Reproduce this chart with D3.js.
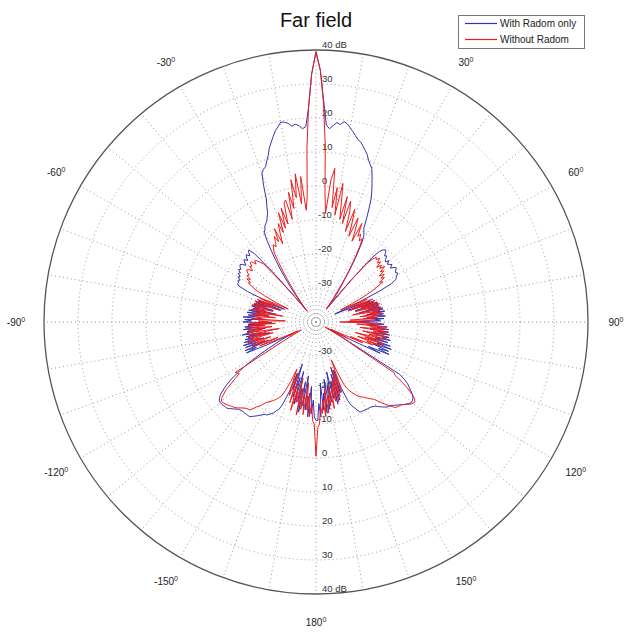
<!DOCTYPE html>
<html>
<head>
<meta charset="utf-8">
<script src="https://cdn.jsdelivr.net/npm/d3@7"></script>
<style>
  body { margin: 0; background: #fff; }
  text { font-family: Arial, "Liberation Sans", sans-serif; }
</style>
</head>
<body>
<svg id="chart" width="625" height="632"></svg>
<script>
// angle in degrees, 0 = boresight (top), clockwise positive
const angles = d3.range(-180, 181);

// gain in dB, -180 .. 180
const withRadom = [
  -11,
  -12, -17, -13, -21, -12, -18, -14, -24, -15,
  -22, -13, -20, -16, -25, -15, -23, -17, -27, -19,
  -24, -18, -14, -12, -11.5, -10.5, -10, -9.5, -9, -9,
  -8.5, -8, -7.5, -7, -6.5, -6, -6, -6, -6, -6,
  -6, -5.8, -5.5, -5, -4.5, -4, -3.5, -3.5, -3.3, -3.2,
  -3.2, -3.4, -4, -5, -6.5, -8, -10, -12.5, -15, -18,
  -21, -24, -27, -29, -32, -24, -17.6, -21, -17.5, -25,
  -18, -22, -17.5, -24, -18, -21, -18.5, -26, -19, -23,
  -18, -21, -19.5, -25, -18.5, -22, -19, -24, -20, -27,
  -18.5, -21, -19, -25, -18.5, -22, -20, -26, -19.5, -24,
  -20, -28, -21, -23, -20.5, -27, -21, -25, -21.5, -29,
  -22, -26, -30, -24, -18, -15, -14.3, -14.5, -14, -14.5,
  -13.5, -14, -13, -13.5, -12.5, -13, -12.4, -12, -12.5, -13.5,
  -12.5, -12, -13, -12, -11.5, -12.5, -11.5, -11, -13, -20,
  -30, -35, -33, -30, -27, -24, -21, -18, -15, -12,
  -9.5, -9, -8, -7.5, -7, -6, -5, -3, -1, 3,
  6.5, 7.5, 8, 9.5, 11, 13, 14.5, 16, 17.5, 18.5,
  19.7, 19.5, 19, 18, 18.5, 18, 17, 17.5, 23, 33,
  39.5,
  34, 25, 18, 17, 18, 19, 18.5, 19.5, 19, 18,
  17, 16, 15, 14.5, 13.5, 12.5, 11.5, 10, 9, 8,
  6, 4, 2, 0, -3, -6, -9, -10, -11, -13,
  -16, -19, -22, -25, -27, -29, -31, -33, -35, -24,
  -15, -12, -11, -10.5, -11, -12, -11.5, -12.5, -13, -12,
  -13, -12.5, -12, -13, -12, -11.5, -12, -12.5, -12, -12.5,
  -13, -13.5, -15, -19, -25, -30, -34, -27, -23, -30,
  -22, -26, -21, -28, -21, -24, -20.5, -27, -20, -23,
  -19.5, -25, -20, -22, -19.5, -26, -20, -23, -21, -30,
  -22, -20, -25, -19, -22, -18.5, -24, -18.5, -21, -18,
  -23, -18, -20, -17.5, -22, -18, -24, -17, -21, -16.5,
  -22, -17, -20, -16.5, -23, -19, -28, -33, -36, -32,
  -28, -11, -9, -7.5, -6.5, -5.5, -4.5, -3.8, -3.5, -3.3,
  -3.5, -4, -4.4, -5, -5.5, -6, -6.5, -7, -7.2, -7.4,
  -7.8, -8.3, -8.8, -9.3, -9.8, -10, -10.2, -10.3, -10.3, -10.3,
  -10.4, -10.4, -10.5, -10.5, -11.5, -12.5, -13.3, -15, -19, -25,
  -18, -26, -16, -24, -15, -22, -17, -25, -16, -21,
  -14, -23, -13, -19, -14, -22, -12, -16, -11, -11
];

const withoutRadom = [
  -0.5,
  -10, -11, -16, -12, -19, -14, -22, -12.5, -18,
  -14, -20, -12, -23, -15.5, -19, -13, -21, -15, -24,
  -17, -20, -25, -21, -18, -16, -15.3, -14.5, -14, -13.5,
  -13, -12.5, -12, -11, -10.1, -9.5, -8.5, -7.6, -7.5, -7.3,
  -7, -6.5, -6, -5.5, -5.2, -4.9, -4.6, -4.3, -4, -3.8,
  -3.7, -4.3, -5.5, -7, -9, -11, -12.8, -12.5, -12, -25,
  -30, -33, -35, -31, -34, -30, -26, -22, -28, -20,
  -24, -21, -26, -19, -23, -20, -27, -19.5, -25, -20,
  -29, -19.5, -24, -20, -27, -19.5, -25, -20, -28, -20.5,
  -26, -23, -31, -21, -24, -22, -28, -21, -26, -22,
  -30, -20.5, -25, -21.5, -27, -20.5, -24, -21, -29, -21,
  -26, -21.5, -28, -22, -25, -31, -27, -23, -20, -18.5,
  -17, -17.5, -16, -17, -15.5, -16, -15, -14.5, -15, -16,
  -14.5, -15, -14, -14, -15.5, -14.5, -15, -16, -17, -24,
  -31, -36, -34, -32, -30, -28, -25, -22, -19, -16,
  -15, -14, -15, -13.8, -12, -14, -10, -15, -11.8, -9,
  -12, -6, -11, -5, -10, -3.7, -3, -9, -1, -6,
  2.4, -3, 4, -5, 3, -7, -3, 11, 23, 33,
  39.5,
  34, 24, 12, -2, -8, 2, 5.5, -6, 0, -8,
  1.5, -4, -9, -2, -10, -3, -6, -12, -5, -9,
  -13, -7, -10, -14, -8, -12, -11, -13, -12, -14,
  -17, -20, -23, -26, -29, -31, -33, -35, -30, -24,
  -17, -15, -14, -14.5, -13.5, -15, -14, -16, -14.5, -15.5,
  -14, -16, -15, -17, -15.5, -17, -16, -18, -17, -19,
  -21, -24, -28, -32, -27, -23.5, -29, -22, -27, -21.5,
  -30, -21, -26, -20.5, -28, -21, -25, -20, -29, -21,
  -24, -20.5, -27, -21, -25, -22, -30, -23, -27, -33,
  -26, -21, -28, -19.5, -24, -19, -27, -18.5, -23, -19,
  -26, -18.5, -24, -19.5, -28, -20, -25, -19, -27, -20,
  -24, -22, -29, -25, -32, -35, -30, -34, -37, -33,
  -30, -26, -12.6, -12, -9, -6.5, -4.5, -3.2, -2.6, -2.8,
  -3.2, -3.8, -4.5, -5, -5.2, -5.4, -5.6, -6.5, -7.5, -8.5,
  -9.5, -10.5, -11.5, -12, -12.5, -13, -13.5, -14, -14.3, -14.7,
  -15.3, -16, -16.7, -17.5, -18.5, -20, -24, -28, -22, -18,
  -25, -17, -23, -15.5, -22, -16, -20, -14, -21, -15,
  -18, -13, -20, -12, -17, -13, -15, -10, -9, -0.5
];

const seriesNames = ["With Radom only", "Without Radom"];
const seriesColors = ["#3232b4", "#f01c1c"];
const ringTicks = [-30, -20, -10, 0, 10, 20, 30, 40];
const angleTicks = [-150, -120, -90, -60, -30, 30, 60, 90, 120, 150, 180];
const spokeAngles = d3.range(0, 360, 10);

if (withRadom.length !== angles.length || withoutRadom.length !== angles.length) {
  throw new Error("length " + withRadom.length + " " + withoutRadom.length);
}

const cx = 316, cy = 322, R = 272;
const svg = d3.select("#chart");

const r = d3.scaleLinear().domain([-40, 40]).range([0, R]).clamp(true);
const rad = d => d * Math.PI / 180;

// title
svg.append("text")
  .attr("x", cx).attr("y", 27)
  .attr("text-anchor", "middle")
  .attr("font-size", 20)
  .attr("fill", "#111")
  .text("Far field");

const g = svg.append("g").attr("transform", `translate(${cx},${cy})`);

// grid: rings
g.selectAll(".ring")
  .data(ringTicks.filter(d => d < 40))
  .join("circle")
  .attr("r", d => r(d))
  .attr("fill", "none")
  .attr("stroke", "#9a9a9a")
  .attr("stroke-width", 1)
  .attr("stroke-dasharray", "1,3");

// grid: spokes
g.selectAll(".spoke")
  .data(spokeAngles)
  .join("line")
  .attr("x1", 0).attr("y1", 0)
  .attr("x2", d => R * Math.sin(rad(d)))
  .attr("y2", d => -R * Math.cos(rad(d)))
  .attr("stroke", "#9a9a9a")
  .attr("stroke-width", 1)
  .attr("stroke-dasharray", "1,3");

// outer circle
g.append("circle")
  .attr("r", R)
  .attr("fill", "none")
  .attr("stroke", "#555")
  .attr("stroke-width", 1.3);

// ring labels, top and bottom
const ringLabel = d => (d === 40 ? "40 dB" : String(d));
[-1, 1].forEach(side => {
  g.selectAll(".rl" + side)
    .data(ringTicks)
    .join("text")
    .attr("x", d => (d < 0 ? 2 : 6))
    .attr("y", d => side * r(d) - 5)
    .attr("dy", "0.35em")
    .attr("font-size", 9.5)
    .attr("fill", "#333")
    .text(ringLabel);
});

// angle labels
const al = g.selectAll(".al")
  .data(angleTicks)
  .join("text")
  .attr("x", d => 300 * Math.sin(rad(d)))
  .attr("y", d => -300 * Math.cos(rad(d)))
  .attr("dy", "0.35em")
  .attr("text-anchor", "middle")
  .attr("font-size", 10)
  .attr("fill", "#222");
al.append("tspan").text(d => d);
al.append("tspan").attr("font-size", 7).attr("dy", -4).text("0");

// curves
const line = d3.lineRadial()
  .angle(d => rad(d[0]))
  .radius(d => r(d[1]));

[withRadom, withoutRadom].forEach((vals, k) => {
  g.append("path")
    .datum(angles.map((a, i) => [a, vals[i]]))
    .attr("d", line)
    .attr("fill", "none")
    .attr("stroke", seriesColors[k])
    .attr("stroke-width", 1)
    .attr("stroke-linejoin", "round");
});

// legend
const lg = svg.append("g").attr("transform", "translate(458,15)");
lg.append("rect")
  .attr("x", 0.5).attr("y", 0.5)
  .attr("width", 126).attr("height", 33)
  .attr("fill", "#fff")
  .attr("stroke", "#777");
seriesNames.forEach((name, k) => {
  const y = 8.5 + k * 16;
  lg.append("line")
    .attr("x1", 7).attr("x2", 39)
    .attr("y1", y).attr("y2", y)
    .attr("stroke", seriesColors[k])
    .attr("stroke-width", 1.2);
  lg.append("text")
    .attr("x", 42).attr("y", y)
    .attr("dy", "0.35em")
    .attr("font-size", 10)
    .attr("fill", "#222")
    .text(name);
});
</script>
</body>
</html>
